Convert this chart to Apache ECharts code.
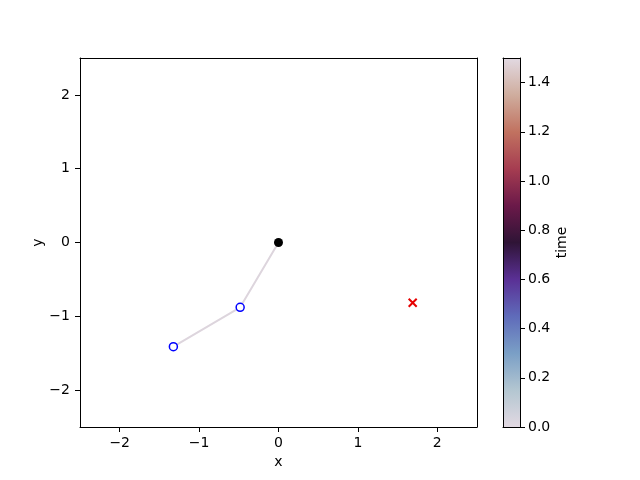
<!DOCTYPE html>
<html>
<head>
<meta charset="utf-8">
<script src="https://cdn.jsdelivr.net/npm/echarts@6/dist/echarts.min.js"></script>
<style>
  html, body { margin: 0; padding: 0; background: #fff; }
  #chart { width: 640px; height: 480px; }
</style>
</head>
<body>
<div id="chart"></div>
<script>
// data
var originPoint = [[0, 0]];
var trajX = [0, -0.483, -1.324];
var trajY = [0, -0.878, -1.412];
var targetPoint = [[1.69, -0.816]];
var axisTicks = [-2, -1, 0, 1, 2];
var timeRange = [0, 1.5];
var timeTicks = [0, 0.2, 0.4, 0.6, 0.8, 1.0, 1.2, 1.4];
// twilight colormap stops
var twilightStops = ['#e2d9e2', '#b3c6d1', '#7a9fc6', '#5f6bba', '#5a3095', '#2f1436',
                     '#6b1949', '#a63d51', '#c17260', '#cfad9e', '#e2d9e2'];

var FONT = 'DejaVu Sans';
function minus(v) {
    return String(v).replace('-', '\u2212');
}

var trajLine = trajX.map(function (x, i) { return [x, trajY[i]]; });
var trajPts = trajLine.slice(1);

var gradStops = twilightStops.map(function (c, i) {
    return { offset: i / (twilightStops.length - 1), color: c };
});

var frameLine = { show: true, onZero: false, lineStyle: { color: '#000', width: 1 } };
var txt = { fontFamily: FONT, fontSize: 14, color: '#000' };

// plain axis used only as a frame edge
function edgeAxis(grid, pos, type, range) {
    var a = {
        gridIndex: grid, type: type, position: pos, z: 5,
        axisLine: frameLine, axisTick: { show: false }, axisLabel: { show: false },
        splitLine: { show: false }
    };
    if (type === 'category') a.data = ['t'];
    else { a.min = range[0]; a.max = range[1]; }
    return a;
}

var myChart = echarts.init(document.getElementById('chart'), null, { renderer: 'canvas' });
myChart.setOption({
    animation: false,
    grid: [
        { left: 80, top: 58, width: 397, height: 369 },
        { left: 503, top: 58, width: 17, height: 369 }
    ],
    xAxis: [{
        gridIndex: 0,
        type: 'value',
        position: 'bottom',
        min: -2.5, max: 2.5,
        name: 'x', nameLocation: 'middle', nameGap: 28, nameMoveOverlap: false,
        nameTextStyle: txt,
        axisLine: frameLine,
        axisTick: { show: true, length: 5, customValues: axisTicks, lineStyle: { color: '#000' } },
        axisLabel: { customValues: axisTicks, fontFamily: FONT, fontSize: 14, color: '#000', margin: 9, formatter: minus },
        splitLine: { show: false }
    },
    edgeAxis(0, 'top', 'value', [-2.5, 2.5]),
    edgeAxis(1, 'bottom', 'category'),
    edgeAxis(1, 'top', 'category')],
    yAxis: [{
        gridIndex: 0,
        type: 'value',
        position: 'left',
        min: -2.5, max: 2.5,
        name: 'y', nameLocation: 'middle', nameGap: 35, nameRotate: 90, nameMoveOverlap: false,
        nameTextStyle: txt,
        axisLine: frameLine,
        axisTick: { show: true, length: 5, customValues: axisTicks, lineStyle: { color: '#000' } },
        axisLabel: { customValues: axisTicks, fontFamily: FONT, fontSize: 14, color: '#000', margin: 10, formatter: minus },
        splitLine: { show: false }
    },
    edgeAxis(0, 'right', 'value', [-2.5, 2.5]),
    {
        gridIndex: 1,
        type: 'value',
        position: 'right',
        z: 5,
        min: timeRange[0], max: timeRange[1],
        name: 'time', nameLocation: 'middle', nameGap: 35, nameRotate: 90, nameMoveOverlap: false,
        nameTextStyle: txt,
        axisLine: frameLine,
        axisTick: { show: true, length: 5, customValues: timeTicks, lineStyle: { color: '#000' } },
        axisLabel: { customValues: timeTicks, fontFamily: FONT, fontSize: 14, color: '#000', margin: 8,
            formatter: function (v) { return v.toFixed(1); } },
        splitLine: { show: false }
    },
    edgeAxis(1, 'left', 'value', timeRange)],
    series: [{
        // colorbar
        type: 'bar',
        xAxisIndex: 2, yAxisIndex: 2,
        data: [timeRange[1]],
        barWidth: '100%',
        silent: true,
        itemStyle: {
            color: new echarts.graphic.LinearGradient(0, 1, 0, 0, gradStops)
        },
        z: 1
    }, {
        type: 'line',
        xAxisIndex: 0, yAxisIndex: 0,
        data: trajLine,
        showSymbol: false,
        lineStyle: { color: '#ddd5dd', width: 2 },
        z: 2
    }, {
        type: 'scatter',
        data: trajPts,
        symbol: 'circle',
        symbolSize: 8,
        itemStyle: { color: '#fff', borderColor: '#0000ff', borderWidth: 1.5, opacity: 1 },
        z: 3
    }, {
        type: 'scatter',
        data: originPoint,
        symbol: 'circle',
        symbolSize: 9,
        itemStyle: { color: '#000', opacity: 1 },
        z: 3
    }, {
        type: 'scatter',
        data: targetPoint,
        symbol: 'path://M0,0L10,10M10,0L0,10',
        symbolSize: 8,
        itemStyle: { color: 'none', borderColor: '#e60000', borderWidth: 2, opacity: 1 },
        z: 3
    }]
});
</script>
</body>
</html>
